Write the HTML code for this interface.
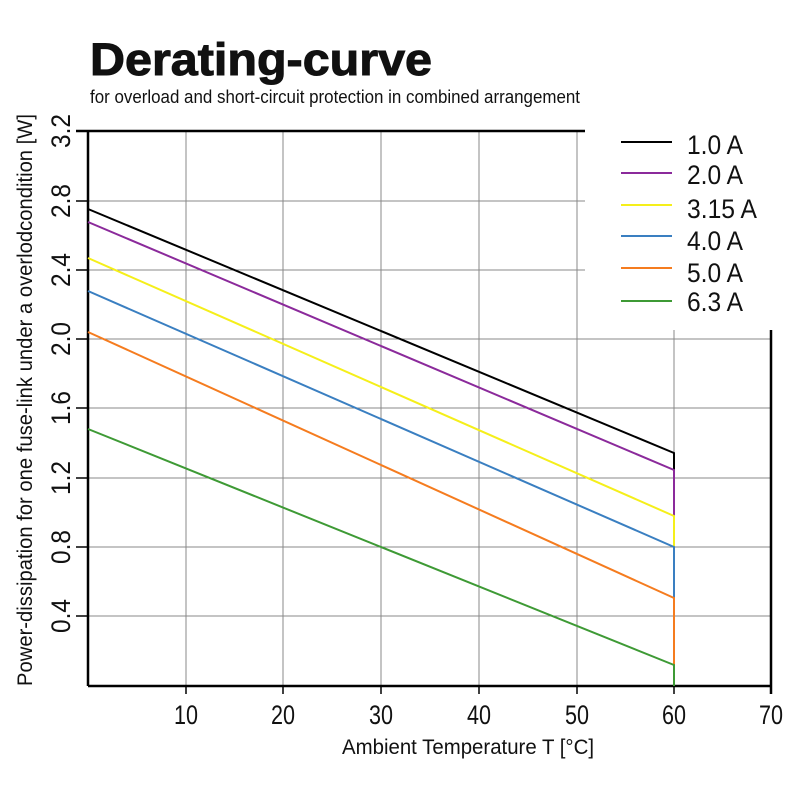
<!DOCTYPE html>
<html><head><meta charset="utf-8"><style>
body{margin:0;background:#fff}
svg text{font-family:"Liberation Sans",sans-serif;fill:#111}
</style></head><body>
<svg width="800" height="800" xmlns="http://www.w3.org/2000/svg">
<text x="90" y="75" style="font-weight:900;font-size:45px" textLength="342" lengthAdjust="spacingAndGlyphs" stroke="#111" stroke-width="1">Derating-curve</text>
<text x="90" y="103" font-size="18" textLength="490" lengthAdjust="spacingAndGlyphs">for overload and short-circuit protection in combined arrangement</text>
<g stroke="#888" stroke-width="1" fill="none">
<line x1="88" y1="201" x2="585" y2="201"/><line x1="88" y1="270" x2="585" y2="270"/>
<line x1="88" y1="339" x2="771" y2="339"/><line x1="88" y1="408" x2="771" y2="408"/>
<line x1="88" y1="478" x2="771" y2="478"/><line x1="88" y1="547" x2="771" y2="547"/>
<line x1="88" y1="616" x2="771" y2="616"/>
<line x1="186" y1="131" x2="186" y2="686"/><line x1="283" y1="131" x2="283" y2="686"/>
<line x1="381" y1="131" x2="381" y2="686"/><line x1="479" y1="131" x2="479" y2="686"/>
<line x1="577" y1="131" x2="577" y2="686"/><line x1="674" y1="330" x2="674" y2="686"/>
</g>
<g stroke="#000" stroke-width="2.5">
<line x1="76" y1="131" x2="585" y2="131"/>
<line x1="88" y1="131" x2="88" y2="686"/>
<line x1="88" y1="686" x2="771" y2="686"/>
<line x1="771" y1="330" x2="771" y2="694"/>
</g>
<g stroke="#000" stroke-width="1.5">
<line x1="76" y1="201" x2="88" y2="201"/><line x1="76" y1="270" x2="88" y2="270"/>
<line x1="76" y1="339" x2="88" y2="339"/><line x1="76" y1="408" x2="88" y2="408"/>
<line x1="76" y1="478" x2="88" y2="478"/><line x1="76" y1="547" x2="88" y2="547"/>
<line x1="76" y1="616" x2="88" y2="616"/>
<line x1="186" y1="686" x2="186" y2="694"/><line x1="283" y1="686" x2="283" y2="694"/>
<line x1="381" y1="686" x2="381" y2="694"/><line x1="479" y1="686" x2="479" y2="694"/>
<line x1="577" y1="686" x2="577" y2="694"/><line x1="674" y1="686" x2="674" y2="694"/>
</g>
<g stroke-width="2" fill="none">
<polyline stroke="#000" points="88,209 674,453 674,470"/>
<polyline stroke="#8b2a9b" points="88,222 674,470 674,516"/>
<polyline stroke="#f5ef1a" points="88,258 674,516 674,547"/>
<polyline stroke="#3a7fc1" points="88,291 674,547 674,598"/>
<polyline stroke="#f57c1f" points="88,332 674,598 674,665"/>
<polyline stroke="#3e9a35" points="88,429 674,665 674,686"/>
</g>
<g stroke-width="2">
<line x1="621" y1="142" x2="672" y2="142" stroke="#000"/>
<line x1="621" y1="173" x2="672" y2="173" stroke="#8b2a9b"/>
<line x1="621" y1="205" x2="672" y2="205" stroke="#f5ef1a"/>
<line x1="621" y1="236" x2="672" y2="236" stroke="#3a7fc1"/>
<line x1="621" y1="268" x2="672" y2="268" stroke="#f57c1f"/>
<line x1="621" y1="301" x2="672" y2="301" stroke="#3e9a35"/>
</g>
<g font-size="27" lengthAdjust="spacingAndGlyphs">
<text x="687" y="154" textLength="56" lengthAdjust="spacingAndGlyphs">1.0 A</text>
<text x="687" y="184" textLength="56" lengthAdjust="spacingAndGlyphs">2.0 A</text>
<text x="687" y="218" textLength="70" lengthAdjust="spacingAndGlyphs">3.15 A</text>
<text x="687" y="250" textLength="56" lengthAdjust="spacingAndGlyphs">4.0 A</text>
<text x="687" y="282" textLength="56" lengthAdjust="spacingAndGlyphs">5.0 A</text>
<text x="687" y="311" textLength="56" lengthAdjust="spacingAndGlyphs">6.3 A</text>
</g>
<g font-size="27">
<text x="174" y="724" textLength="24" lengthAdjust="spacingAndGlyphs">10</text>
<text x="271" y="724" textLength="24" lengthAdjust="spacingAndGlyphs">20</text>
<text x="369" y="724" textLength="24" lengthAdjust="spacingAndGlyphs">30</text>
<text x="467" y="724" textLength="24" lengthAdjust="spacingAndGlyphs">40</text>
<text x="565" y="724" textLength="24" lengthAdjust="spacingAndGlyphs">50</text>
<text x="662" y="724" textLength="24" lengthAdjust="spacingAndGlyphs">60</text>
<text x="759" y="724" textLength="24" lengthAdjust="spacingAndGlyphs">70</text>
</g>
<g font-size="27">
<text transform="translate(70,148) rotate(-90)" textLength="34" lengthAdjust="spacingAndGlyphs">3.2</text>
<text transform="translate(70,218) rotate(-90)" textLength="34" lengthAdjust="spacingAndGlyphs">2.8</text>
<text transform="translate(70,287) rotate(-90)" textLength="34" lengthAdjust="spacingAndGlyphs">2.4</text>
<text transform="translate(70,356) rotate(-90)" textLength="34" lengthAdjust="spacingAndGlyphs">2.0</text>
<text transform="translate(70,425) rotate(-90)" textLength="34" lengthAdjust="spacingAndGlyphs">1.6</text>
<text transform="translate(70,495) rotate(-90)" textLength="34" lengthAdjust="spacingAndGlyphs">1.2</text>
<text transform="translate(70,564) rotate(-90)" textLength="34" lengthAdjust="spacingAndGlyphs">0.8</text>
<text transform="translate(70,633) rotate(-90)" textLength="34" lengthAdjust="spacingAndGlyphs">0.4</text>
</g>
<text x="342" y="754" font-size="21" textLength="252" lengthAdjust="spacingAndGlyphs">Ambient Temperature T [°C]</text>
<text transform="translate(32,686) rotate(-90)" font-size="21" textLength="572" lengthAdjust="spacingAndGlyphs">Power-dissipation for one fuse-link under a overlodcondition [W]</text>
</svg>
</body></html>
